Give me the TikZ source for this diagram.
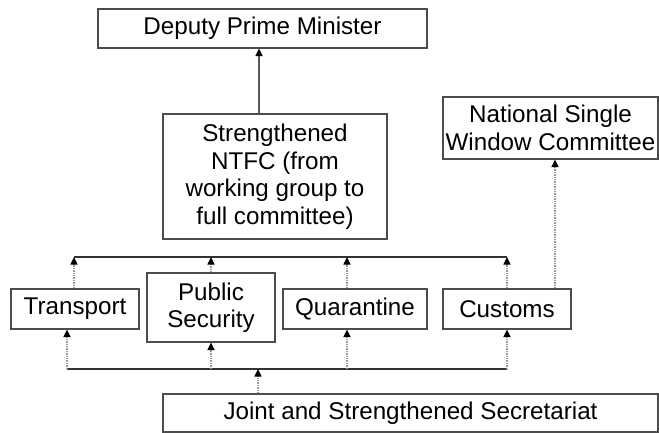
\documentclass[tikz,border=0pt]{standalone}
\usepackage{fontspec}
\setmainfont{Liberation Sans}
\usetikzlibrary{arrows.meta}
\begin{document}
\begin{tikzpicture}[x=1pt,y=-1pt,
  box/.style={draw=black!70, line width=1.1pt, fill=white, inner sep=0pt, align=center,
    font=\fontsize{24.2}{27.5}\selectfont, text=black},
  tip/.style={-{Triangle[width=7pt,length=7.5pt,color=black]}},
  solidarrow/.style={draw=black!65, line width=1.5pt, tip},
  dotarrow/.style={draw=black!40, line width=1.4pt, densely dotted, tip},
  bus/.style={draw=black!80, line width=1.1pt}]
\useasboundingbox (0,0) rectangle (659,433);

\node[box, minimum width=329pt, minimum height=39pt] (dpm) at (262.5,28.5) {Deputy Prime Minister};
\node[box, minimum width=224pt, minimum height=125pt] (ntfc) at (275,176.5)
  {Strengthened\\NTFC (from\\working group to\\full committee)};
\node[box, minimum width=215pt, minimum height=62pt] (nsw) at (550.5,128)
  {National Single\\Window Committee};
\node[box, minimum width=128pt, minimum height=40pt] (trans) at (75,309) {Transport};
\node[box, minimum width=128pt, minimum height=69pt] (ps) at (211,307.5) {Public\\Security};
\node[box, minimum width=144pt, minimum height=40pt] (quar) at (355,309) {Quarantine};
\node[box, minimum width=128pt, minimum height=40pt] (cust) at (507,309) {Customs};
\node[box, minimum width=495pt, minimum height=38pt] (joint) at (410.5,413)
  {Joint and Strengthened Secretariat};

% top bus
\coordinate (t1) at (74,257);
\coordinate (t2) at (211,257);
\coordinate (t3) at (347,257);
\coordinate (t4) at (507,257);
\draw[bus] (t1) -- (t4);
% bottom bus
\coordinate (b1) at (67,369);
\coordinate (b2) at (211,369);
\coordinate (b3) at (347,369);
\coordinate (b4) at (507,369);
\coordinate (bj) at (258,369);
\draw[bus] (b1) -- (b4);

\draw[solidarrow] (ntfc.north -| 259,0) -- (dpm.south -| 259,0);

\draw[dotarrow] (trans.north -| t1) -- (t1);
\draw[dotarrow] (ps.north -| t2) -- (t2);
\draw[dotarrow] (quar.north -| t3) -- (t3);
\draw[dotarrow] (cust.north -| t4) -- (t4);

\draw[dotarrow] (b1) -- (trans.south -| b1);
\draw[dotarrow] (b2) -- (ps.south -| b2);
\draw[dotarrow] (b3) -- (quar.south -| b3);
\draw[dotarrow] (b4) -- (cust.south -| b4);

\draw[dotarrow] (joint.north -| bj) -- (bj);
\draw[dotarrow] (cust.north -| 555,0) -- (nsw.south -| 555,0);
\end{tikzpicture}
\end{document}
